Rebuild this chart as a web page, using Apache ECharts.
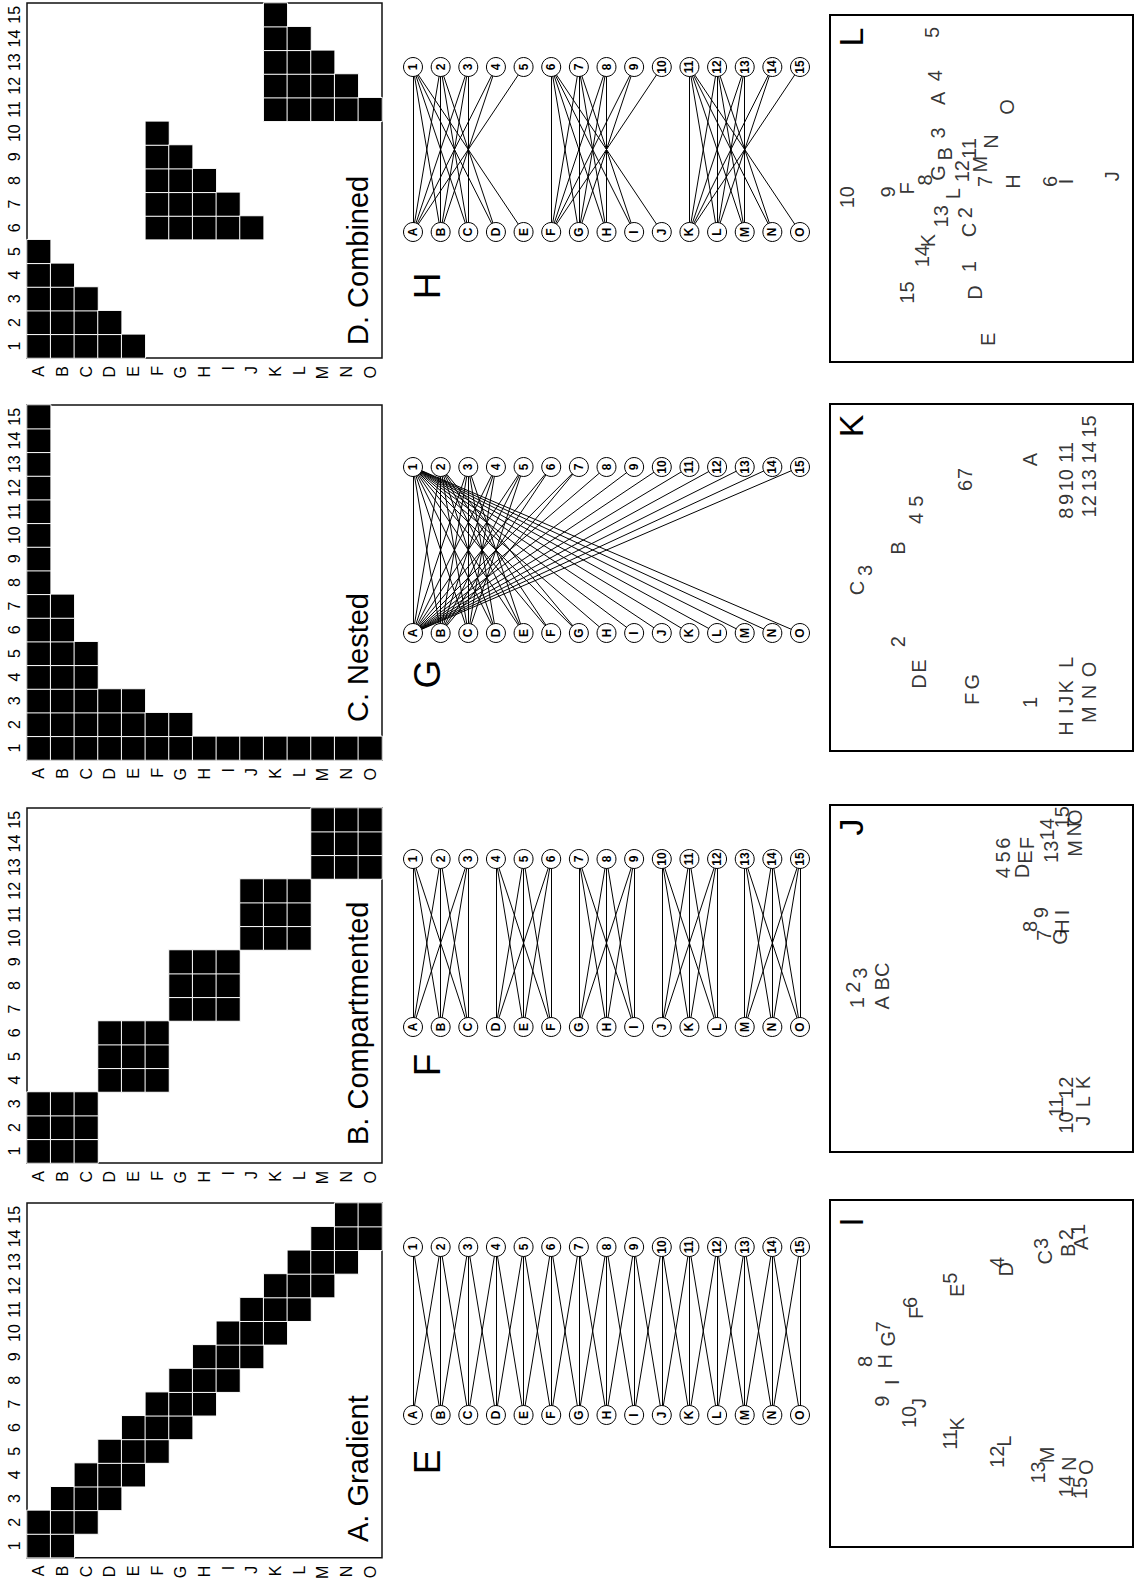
<!DOCTYPE html>
<html>
<head>
<meta charset="utf-8">
<script src="https://cdn.jsdelivr.net/npm/echarts@6/dist/echarts.min.js"></script>
<style>
html,body{margin:0;padding:0;background:#fff;}
body{width:1138px;height:1582px;overflow:hidden;position:relative;}
#chart{position:absolute;left:0;top:0;width:1582px;height:1138px;transform-origin:0 0;transform:rotate(-90deg) translate(-1582px,0);background:#fff;}
</style>
</head>
<body>
<div id="chart"></div>
<script>
// ---------- data ----------
const rowLabels = ['A','B','C','D','E','F','G','H','I','J','K','L','M','N','O'];
const colLabels = ['1','2','3','4','5','6','7','8','9','10','11','12','13','14','15'];

// interaction matrices: for each row (A..O), the columns (1..15) that are filled
const gradient = [[1,2],[1,2,3],[2,3,4],[3,4,5],[4,5,6],[5,6,7],[6,7,8],[7,8,9],[8,9,10],[9,10,11],[10,11,12],[11,12,13],[12,13,14],[13,14,15],[14,15]];
const compartmented = [[1,2,3],[1,2,3],[1,2,3],[4,5,6],[4,5,6],[4,5,6],[7,8,9],[7,8,9],[7,8,9],[10,11,12],[10,11,12],[10,11,12],[13,14,15],[13,14,15],[13,14,15]];
const nested = [[1,2,3,4,5,6,7,8,9,10,11,12,13,14,15],[1,2,3,4,5,6,7],[1,2,3,4,5],[1,2,3],[1,2,3],[1,2],[1,2],[1],[1],[1],[1],[1],[1],[1],[1]];
const combined = [[1,2,3,4,5],[1,2,3,4],[1,2,3],[1,2],[1],[6,7,8,9,10],[6,7,8,9],[6,7,8],[6,7],[6],[11,12,13,14,15],[11,12,13,14],[11,12,13],[11,12],[11]];

const matrixTitles = ['A. Gradient','B. Compartmented','C. Nested','D. Combined'];
const networkTitles = ['E','F','G','H'];
const ordTitles = ['I','J','K','L'];

// ordination scores: [label, axis1, axis2]
const ordI = [['A',0.75,-0.66],['1',0.83,-0.64],['B',0.71,-0.57],['2',0.80,-0.56],['C',0.67,-0.42],['3',0.75,-0.39],['D',0.60,-0.16],['4',0.64,-0.10],['E',0.48,0.16],['5',0.55,0.21],['F',0.35,0.43],['6',0.41,0.47],['G',0.20,0.62],['7',0.27,0.65],['H',0.07,0.64],['8',0.07,0.77],['I',-0.05,0.59],['9',-0.16,0.66],['J',-0.17,0.41],['10',-0.25,0.48],['K',-0.29,0.16],['11',-0.38,0.21],['L',-0.39,-0.15],['12',-0.48,-0.10],['M',-0.47,-0.43],['13',-0.57,-0.37],['N',-0.52,-0.58],['14',-0.65,-0.56],['O',-0.54,-0.69],['15',-0.66,-0.65]];
const ordJ = [['1',-0.14,0.82],['2',-0.05,0.85],['3',0.03,0.80],['A',-0.14,0.66],['B',-0.03,0.66],['C',0.05,0.66],['4',0.61,-0.14],['5',0.70,-0.14],['6',0.78,-0.14],['D',0.62,-0.27],['E',0.70,-0.29],['F',0.78,-0.30],['7',0.25,-0.41],['8',0.30,-0.32],['9',0.38,-0.39],['G',0.24,-0.52],['H',0.30,-0.53],['I',0.38,-0.53],['10',-0.83,-0.56],['11',-0.74,-0.49],['12',-0.63,-0.56],['J',-0.82,-0.67],['L',-0.71,-0.67],['K',-0.60,-0.67],['13',0.73,-0.46],['14',0.86,-0.43],['15',0.93,-0.53],['M',0.75,-0.62],['N',0.86,-0.61],['O',0.93,-0.62]];
const ordK = [['C',-0.06,0.82],['3',0.04,0.77],['B',0.17,0.55],['4',0.34,0.43],['5',0.44,0.43],['6',0.53,0.11],['7',0.60,0.11],['A',0.68,-0.32],['2',-0.37,0.55],['D',-0.60,0.41],['E',-0.51,0.41],['F',-0.70,0.06],['G',-0.60,0.06],['1',-0.72,-0.32],['H',-0.87,-0.56],['I',-0.77,-0.56],['J',-0.71,-0.56],['K',-0.63,-0.56],['L',-0.49,-0.56],['M',-0.79,-0.71],['N',-0.66,-0.71],['O',-0.53,-0.71],['8',0.37,-0.56],['9',0.45,-0.56],['10',0.56,-0.56],['11',0.72,-0.56],['12',0.41,-0.71],['13',0.56,-0.71],['14',0.72,-0.71],['15',0.87,-0.71]];
const ordL = [['10',-0.05,0.89],['9',-0.02,0.62],['F',0.00,0.49],['8',0.05,0.37],['G',0.09,0.29],['B',0.20,0.24],['3',0.32,0.29],['A',0.52,0.29],['4',0.65,0.31],['5',0.90,0.33],['O',0.47,-0.17],['11',0.23,0.08],['N',0.27,-0.06],['12',0.10,0.13],['M',0.14,0.01],['7',0.04,-0.02],['L',-0.03,0.19],['13',-0.16,0.27],['2',-0.14,0.11],['K',-0.30,0.35],['C',-0.24,0.08],['14',-0.39,0.39],['1',-0.45,0.08],['15',-0.60,0.49],['D',-0.60,0.04],['E',-0.87,-0.04],['H',0.04,-0.21],['6',0.04,-0.45],['I',0.04,-0.56],['J',0.07,-0.86]];

// ---------- layout ----------
const FONT = '"Liberation Sans", Arial, Helvetica, sans-serif';
function hasFont(name){
  const ctx = document.createElement('canvas').getContext('2d');
  const s = 'A. Gradient Compartmented wwmmii';
  ctx.font = '40px monospace'; const w1 = ctx.measureText(s).width;
  ctx.font = '40px "' + name + '", monospace'; const w2 = ctx.measureText(s).width;
  return Math.abs(w1 - w2) > 0.5;
}
const narrow = hasFont('Liberation Sans Narrow');
const titleFamily = narrow ? '"Liberation Sans Narrow", ' + FONT : FONT;
const titleSize = narrow ? 35 : 29;

const matrixLeft = [24, 419, 822, 1224];
const matrixTitleX = [40, 437, 860, 1237];
const matTop = 27, matSize = 355;
const netLeft = [167, 555, 949, 1350];
const netWidth = [168, 168, 166, 165];
const netTitleX = [120, 517, 908, 1296];
const netTop = 413, netHeight = 387;
const ordLeft = [35, 430, 831, 1220];
const ordTop = 830, ordW = 347, ordH = 303;

const matrices = [gradient, compartmented, nested, combined];
const ords = [ordI, ordJ, ordK, ordL];

const grid = [], xAxis = [], yAxis = [], series = [], graphic = [];

function cells(m){ const out=[]; m.forEach((cols,r)=>cols.forEach(c=>out.push([c-1, r, 1]))); return out; }

matrices.forEach((m, k) => {
  const gi = grid.length;
  grid.push({left: matrixLeft[k], top: matTop, width: matSize, height: matSize, show: true, borderColor: '#111', borderWidth: 1.5, backgroundColor: '#fff'});
  xAxis.push({gridIndex: gi, type: 'category', data: colLabels, position: 'top',
    axisLine: {show: false}, axisTick: {show: false}, splitLine: {show: false},
    axisLabel: {interval: 0, fontSize: 16, margin: 5, color: '#000', fontFamily: FONT}});
  yAxis.push({gridIndex: gi, type: 'category', data: rowLabels, inverse: true,
    axisLine: {show: false}, axisTick: {show: false}, splitLine: {show: false},
    axisLabel: {interval: 0, fontSize: 16, margin: 8, color: '#000', fontFamily: FONT}});
  series.push({type: 'heatmap', xAxisIndex: gi, yAxisIndex: gi, data: cells(m), silent: true,
    itemStyle: {color: '#000', borderColor: '#fff', borderWidth: 1}, emphasis: {disabled: true}});
  graphic.push({type: 'text', x: matrixTitleX[k], y: 358, silent: true,
    style: {text: matrixTitles[k], fontSize: titleSize, fontFamily: titleFamily, fill: '#000',
      align: 'left', textAlign: 'left', verticalAlign: 'middle', textVerticalAlign: 'middle'}});
});

matrices.forEach((m, k) => {
  const gi = grid.length;
  grid.push({left: netLeft[k], top: netTop, width: netWidth[k], height: netHeight, show: false});
  xAxis.push({gridIndex: gi, type: 'value', min: 0, max: 1, show: false});
  yAxis.push({gridIndex: gi, type: 'value', min: 0, max: 14, inverse: true, show: false});
  const nodes = rowLabels.map((n, i) => ({name: n, value: [0, i]}))
    .concat(colLabels.map((n, i) => ({name: n, value: [1, i]})));
  const links = [];
  m.forEach((cols, r) => cols.forEach(c => links.push({source: rowLabels[r], target: colLabels[c-1]})));
  series.push({type: 'graph', coordinateSystem: 'cartesian2d', xAxisIndex: gi, yAxisIndex: gi,
    layout: 'none', roam: false, silent: true, data: nodes, links: links,
    symbol: 'circle', symbolSize: 19,
    itemStyle: {color: '#fff', borderColor: '#000', borderWidth: 1},
    label: {show: true, position: 'inside', color: '#000', fontWeight: 'bold', fontSize: 12, fontFamily: FONT},
    lineStyle: {color: '#000', width: 1, opacity: 1, curveness: 0},
    emphasis: {disabled: true}});
  graphic.push({type: 'text', x: netTitleX[k], y: 427, silent: true,
    style: {text: networkTitles[k], fontSize: 37, fontFamily: FONT, fill: '#000',
      align: 'center', textAlign: 'center', verticalAlign: 'middle', textVerticalAlign: 'middle'}});
});

ords.forEach((o, k) => {
  const gi = grid.length;
  grid.push({left: ordLeft[k], top: ordTop, width: ordW, height: ordH, show: true, borderColor: '#000', borderWidth: 2, backgroundColor: '#fff'});
  xAxis.push({gridIndex: gi, type: 'value', min: -1, max: 1, show: false});
  yAxis.push({gridIndex: gi, type: 'value', min: -1, max: 1, show: false});
  series.push({type: 'scatter', xAxisIndex: gi, yAxisIndex: gi, silent: true,
    symbolSize: 1, itemStyle: {color: 'rgba(0,0,0,0)'},
    data: o.map(d => ({name: d[0], value: [d[1], d[2]]})),
    label: {show: true, position: 'inside', formatter: '{b}', fontSize: 20, color: '#000', fontFamily: FONT},
    emphasis: {disabled: true}});
  graphic.push({type: 'text', x: ordLeft[k] + 325, y: 851, silent: true,
    style: {text: ordTitles[k], fontSize: 34, fontFamily: FONT, fill: '#000',
      align: 'center', textAlign: 'center', verticalAlign: 'middle', textVerticalAlign: 'middle'}});
});

const chart = echarts.init(document.getElementById('chart'), null, {renderer: 'svg', width: 1582, height: 1138});
chart.setOption({animation: false, backgroundColor: '#fff', grid, xAxis, yAxis, series, graphic});
</script>
</body>
</html>
